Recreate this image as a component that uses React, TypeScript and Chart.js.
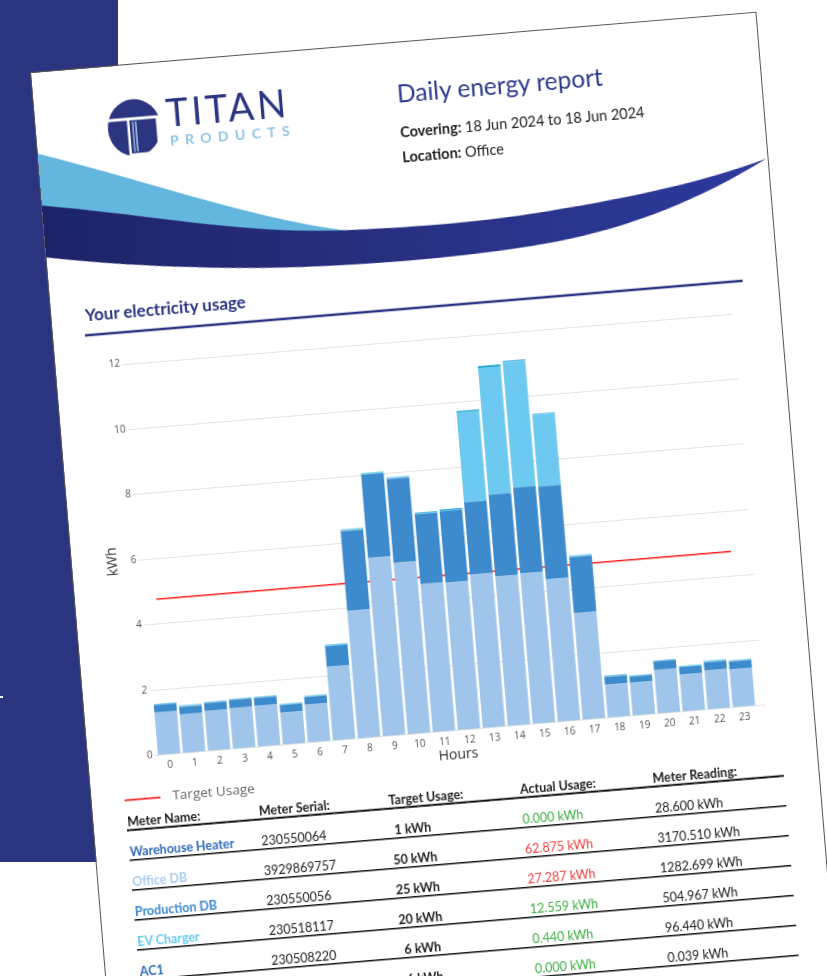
import React, { useEffect, useRef } from 'react';
import { Chart, registerables } from 'chart.js';

Chart.register(...registerables);

// ---------- chart data ----------
const HOURS = ['0','1','2','3','4','5','6','7','8','9','10','11','12','13','14','15','16','17','18','19','20','21','22','23'];
const OFFICE_DB = [1.30,1.18,1.23,1.24,1.26,0.98,1.17,2.27,3.92,5.46,5.25,4.54,4.53,4.70,4.59,4.61,4.36,3.26,1.01,1.00,1.33,1.14,1.20,1.17];
const PRODUCTION_DB = [0.23,0.23,0.23,0.25,0.23,0.23,0.22,0.61,2.43,2.55,2.57,2.13,2.17,2.22,2.50,2.63,2.85,1.72,0.24,0.19,0.26,0.21,0.24,0.23];
const EV_CHARGER = [0.03,0.03,0.03,0.03,0.03,0.03,0.03,0.03,0.03,0.03,0.03,0.03,0.03,2.75,3.89,3.85,2.20,0.03,0.03,0.03,0.03,0.03,0.03,0.03];
const AC1 = [0.01,0.01,0.01,0.01,0.01,0.01,0.01,0.02,0.02,0.02,0.02,0.02,0.03,0.05,0.05,0.03,0.02,0.02,0.01,0.01,0.01,0.01,0.01,0.01];
const WAREHOUSE_HEATER = [0,0,0,0,0,0,0,0,0,0,0,0,0,0,0,0,0,0,0,0,0,0,0,0];
const TARGET_USAGE = [4.75,4.75,4.75,4.75,4.75,4.75,4.75,4.75,4.75,4.75,4.75,4.75,4.75,4.75,4.75,4.75,4.75,4.75,4.75,4.75,4.75,4.75,4.75,4.75];
const Y_TICKS = [0, 2, 4, 6, 8, 10, 12];

// ---------- table data ----------
const TABLE_HEADERS = ['Meter Name:', 'Meter Serial:', 'Target Usage:', 'Actual Usage:', 'Meter Reading:'];
const METER_NAMES = ['Warehouse Heater', 'Office DB', 'Production DB', 'EV Charger', 'AC1', ''];
const METER_SERIALS = ['230550064', '3929869757', '230550056', '230518117', '230508220', ''];
const METER_TARGETS = [1, 50, 25, 20, 6, 6];
const METER_ACTUALS = [0.0, 62.875, 27.287, 12.559, 0.44, 0.0];
const METER_READINGS = [28.6, 3170.51, 1282.699, 504.967, 96.44, 0.039];
const NAME_COLORS = ['#2f6bb8', '#a9cdf0', '#3a87cf', '#6cc9ef', '#2f6bb8', '#2f6bb8'];

const NAVY = '#2b3580';
const RED = '#ff1f1f';

const gridPlugin = {
  id: 'extGrid',
  beforeDatasetsDraw(chart: any) {
    const { ctx, chartArea, scales } = chart;
    const y = scales.y;
    ctx.save();
    ctx.strokeStyle = '#e3e3e3';
    ctx.lineWidth = 1;
    for (const t of Y_TICKS) {
      const py = Math.round(y.getPixelForValue(t)) + 0.5;
      ctx.beginPath();
      ctx.moveTo(chartArea.left - 2, py);
      ctx.lineTo(chartArea.right + 9, py);
      ctx.stroke();
    }
    ctx.restore();
  },
};

function UsageChart() {
  const ref = useRef<HTMLCanvasElement>(null);
  useEffect(() => {
    if (!ref.current) return;
    Chart.defaults.font.family = "'Open Sans', 'DejaVu Sans', sans-serif";
    const barDs = (label: string, data: number[], color: string) => ({
      type: 'bar' as const,
      label,
      data,
      backgroundColor: color,
      borderWidth: 0,
      stack: 'usage',
      order: 1,
      categoryPercentage: 1,
      barPercentage: 0.9,
    });
    const chart = new Chart(ref.current, {
      type: 'bar',
      data: {
        labels: HOURS,
        datasets: [
          {
            type: 'line',
            label: 'Target Usage',
            data: TARGET_USAGE,
            borderColor: RED,
            backgroundColor: RED,
            borderWidth: 1.4,
            pointRadius: 0,
            fill: false,
            stack: 'target',
            order: 10,
          } as any,
          barDs('Office DB', OFFICE_DB, '#9fc6ea'),
          barDs('Production DB', PRODUCTION_DB, '#3d8bcc'),
          barDs('EV Charger', EV_CHARGER, '#6ec9f0'),
          barDs('AC1', AC1, '#1fa5c9'),
          barDs('Warehouse Heater', WAREHOUSE_HEATER, '#2f6bb8'),
        ],
      },
      options: {
        responsive: false,
        animation: false,
        layout: { padding: { left: 0, right: 19.5, top: 12.5, bottom: 6.7 } },
        plugins: { legend: { display: false }, tooltip: { enabled: false } },
        scales: {
          x: {
            stacked: true,
            grid: { display: false, drawTicks: false },
            border: { display: false },
            ticks: { color: '#555', font: { size: 10 }, padding: 4.5, maxRotation: 0, autoSkip: false },
            title: { display: true, text: 'Hours', color: '#333', font: { size: 14 }, padding: { top: 0, bottom: 5.2 } },
            afterFit: (s: any) => { s.height = 38; },
          },
          y: {
            stacked: true,
            min: 0,
            max: 12,
            ticks: { stepSize: 2, color: '#555', font: { size: 10 }, padding: 4 },
            grid: { display: false, drawTicks: false },
            border: { display: false },
            title: { display: true, text: 'kWh', color: '#333', font: { size: 14 }, padding: { top: 3, bottom: 0 } },
            afterFit: (s: any) => { s.width = 38.8; },
          },
        },
      } as any,
      plugins: [gridPlugin],
    });
    return () => chart.destroy();
  }, []);
  return (
    <canvas
      ref={ref}
      width={660}
      height={450}
      style={{ position: 'absolute', left: 30, top: 285, width: 660, height: 450 }}
    />
  );
}

const fmt = (n: number) => n.toFixed(3) + ' kWh';

function PageGraphics() {
  const rowBottom = (i: number) => 792.7 + 30 * i;
  return (
    <svg
      width={727}
      height={1000}
      style={{ position: 'absolute', left: 0, top: 0, pointerEvents: 'none' }}
      fontFamily="Lato, 'Open Sans', sans-serif"
    >
      <defs>
        <linearGradient id="navyG" x1="0" x2="1" y1="0" y2="0">
          <stop offset="0" stopColor="#1d2366" />
          <stop offset="0.45" stopColor="#27307f" />
          <stop offset="1" stopColor="#2d3a9e" />
        </linearGradient>
        <clipPath id="iconClip">
          <ellipse cx={98.5} cy={63} rx={26.5} ry={28.5} />
        </clipPath>
      </defs>

      {/* swoosh */}
      <path d="M0,81 C110,118 210,165 310,185 L0,160 Z" fill="#63b6de" />
      <path
        d="M0,133 C110,152 200,178 294,182.5 C380,186 440,185 486,181.7 C580,175 660,165 726,146 C650,185 570,208 483,214 C400,220 320,219 250,215.6 C150,210 60,197 0,185 Z"
        fill="url(#navyG)"
      />

      {/* logo icon */}
      <g clipPath="url(#iconClip)">
        <rect x={70} y={30} width={60} height={22.5} fill={NAVY} />
        <rect x={70} y={55.5} width={21.5} height={40} fill={NAVY} />
        <rect x={94} y={55.5} width={26.5} height={33} fill={NAVY} />
        <rect x={96.5} y={57} width={1.3} height={30} fill="#9fc6ea" />
        <rect x={99.5} y={57} width={1.3} height={30} fill="#cfe3f5" />
      </g>
      <text x={131} y={65.3} fontSize={38} fontWeight={400} letterSpacing={3.2} fill={NAVY}>TITAN</text>
      <text x={133} y={84} fontSize={14} fontWeight={700} letterSpacing={6.4} fill="#8cc6e4">PRODUCTS</text>

      {/* report title */}
      <text x={363} y={60} fontSize={24.5} fill="#2b3a8c">Daily energy report</text>
      <text x={363} y={94.7} fontSize={14.5} fill="#222">
        <tspan fontWeight={700}>Covering:</tspan>{' 18 Jun 2024 to 18 Jun 2024'}
      </text>
      <text x={363} y={119.7} fontSize={14.5} fill="#222">
        <tspan fontWeight={700}>Location:</tspan>{' Office'}
      </text>

      {/* section heading */}
      <text x={33.7} y={251.8} fontSize={17} fontWeight={700} fill={NAVY}>Your electricity usage</text>
      <line x1={32} y1={266} x2={692} y2={266} stroke={NAVY} strokeWidth={2.6} />

      {/* legend */}
      <line x1={33} y1={732.7} x2={69} y2={732.7} stroke={RED} strokeWidth={1.8} />
      <text x={81.2} y={736.3} fontFamily="'Open Sans', sans-serif" fontSize={13.5} fill="#666">Target Usage</text>

      {/* table header */}
      {TABLE_HEADERS.map((h, i) => (
        <text key={h} x={[34, 166, 296, 428, 561][i]} y={758.7} fontSize={12.5} fontWeight={700} fill="#1f1f1f">{h}</text>
      ))}
      <line x1={33} y1={762.7} x2={692} y2={762.7} stroke="#111" strokeWidth={2} />

      {/* table rows */}
      {METER_NAMES.map((name, i) => {
        const b = rowBottom(i);
        const over = METER_ACTUALS[i] > METER_TARGETS[i];
        return (
          <g key={i}>
            <text x={34} y={b - 4} fontSize={12.5} fontWeight={700} fill={NAME_COLORS[i]}>{name}</text>
            <text x={166} y={b - 4} fontSize={12.5} fill="#222">{METER_SERIALS[i]}</text>
            <text x={318} y={b - 4} fontSize={12.5} fontWeight={700} fill="#1f1f1f" textAnchor="middle">{METER_TARGETS[i] + ' kWh'}</text>
            <text x={428} y={b - 4} fontSize={12.5} fill={over ? '#f0413f' : '#3cb043'}>{fmt(METER_ACTUALS[i])}</text>
            <text x={561} y={b - 4} fontSize={12.5} fill="#222">{fmt(METER_READINGS[i])}</text>
            <line x1={33} y1={b} x2={692} y2={b} stroke="#111" strokeWidth={1.4} />
          </g>
        );
      })}
    </svg>
  );
}

export default function App() {
  return (
    <div
      style={{
        position: 'fixed',
        left: 0,
        top: 0,
        width: 827,
        height: 976,
        overflow: 'hidden',
        background: '#ffffff',
      }}
    >
      <div style={{ position: 'absolute', left: 0, top: 0, width: 118, height: 862, background: '#2b357f' }} />
      <div style={{ position: 'absolute', left: 0, top: 696, width: 3, height: 2, background: '#ffffff' }} />
      <div
        style={{
          position: 'absolute',
          left: 30.5,
          top: 72.5,
          width: 727,
          height: 1000,
          background: '#ffffff',
          outline: '1.2px solid #555',
          transformOrigin: '0 0',
          transform: 'rotate(-4.75deg)',
        }}
      >
        <UsageChart />
        <PageGraphics />
      </div>
    </div>
  );
}
